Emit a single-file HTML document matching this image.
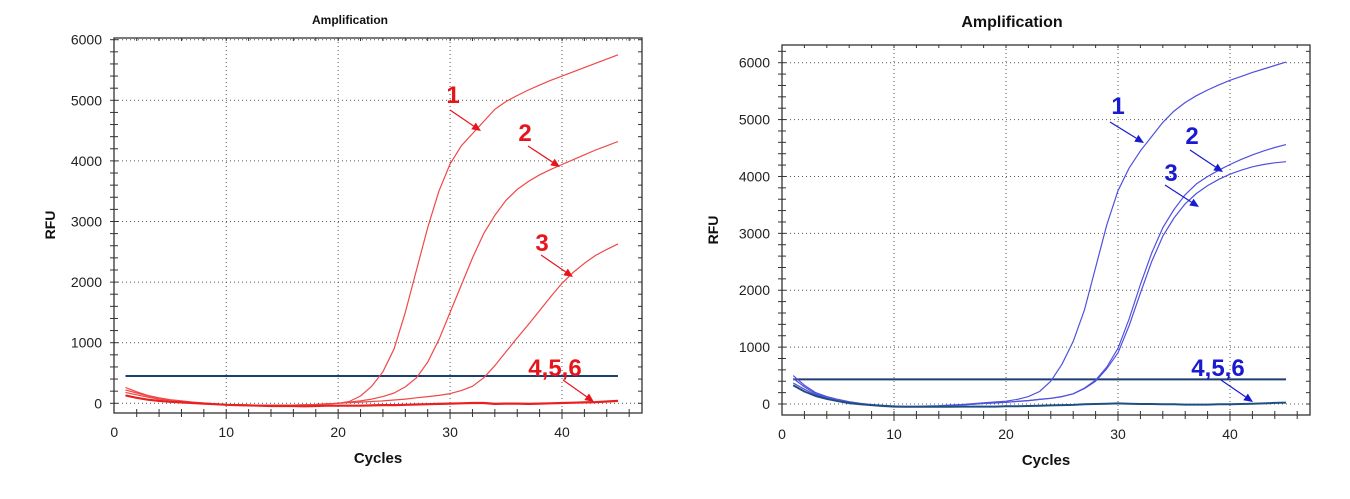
<!DOCTYPE html>
<html><head><meta charset="utf-8"><style>
html,body{margin:0;padding:0;background:#fff;}
svg{display:block;font-family:"Liberation Sans",Arial,sans-serif;}
</style></head><body>
<svg id="c" width="1350" height="499" viewBox="0 0 1350 499" xmlns="http://www.w3.org/2000/svg"></svg>
<script>
// ---- data: cycle numbers and RFU values ----
const cycles = [1,2,3,4,5,6,7,8,9,10,11,12,13,14,15,16,17,18,19,20,21,22,23,24,25,26,27,28,29,30,31,32,33,34,35,36,37,38,39,40,41,42,43,44,45];
const xTicks = [0,10,20,30,40];
const yTicks = [0,1000,2000,3000,4000,5000,6000];
// left (red) panel
const redS1 = [260,190,130,90,60,40,20,5,-10,-20,-25,-30,-30,-30,-30,-30,-25,-20,-10,0,30,120,280,520,900,1500,2200,2900,3500,3950,4250,4450,4650,4850,4980,5080,5170,5250,5330,5400,5470,5540,5610,5680,5750];
const redS2 = [220,170,120,80,55,35,15,0,-10,-20,-25,-30,-30,-30,-30,-30,-25,-20,-10,0,20,40,70,110,170,270,420,680,1050,1500,1950,2400,2800,3100,3350,3530,3660,3770,3860,3940,4020,4100,4180,4250,4320];
const redS3 = [180,140,100,70,50,30,15,0,-10,-20,-25,-30,-30,-30,-30,-30,-25,-20,-10,0,10,20,30,40,55,70,90,110,130,160,210,280,420,620,850,1080,1300,1530,1760,1980,2160,2310,2440,2540,2630];
const redNeg = [130,90,60,40,25,15,5,-5,-15,-25,-30,-35,-40,-45,-45,-45,-50,-45,-40,-40,-40,-40,-35,-30,-30,-25,-20,-15,-10,-5,0,5,5,-10,-5,-5,-10,-5,0,5,10,15,20,30,40];
const redThreshold = 450;
// right (blue) panel
const blueS1 = [500,330,200,130,80,40,10,-10,-25,-35,-40,-40,-35,-30,-20,-10,5,20,35,50,80,130,220,400,700,1100,1650,2400,3150,3750,4150,4450,4700,4950,5150,5300,5420,5520,5610,5690,5760,5830,5890,5950,6010];
const blueS2 = [450,300,180,110,60,20,0,-15,-30,-40,-45,-45,-40,-35,-25,-15,-5,10,20,30,45,60,80,100,130,180,280,420,650,980,1500,2100,2650,3100,3420,3680,3870,4000,4110,4210,4300,4380,4450,4510,4560];
const blueS3 = [370,260,160,100,55,20,0,-15,-30,-40,-45,-45,-40,-35,-25,-15,-5,10,20,30,45,60,80,100,130,180,270,400,620,900,1380,1950,2500,2950,3270,3520,3700,3840,3950,4040,4110,4170,4210,4240,4260];
const blueNeg = [330,220,140,90,50,15,-5,-20,-35,-45,-50,-50,-50,-50,-50,-45,-45,-45,-45,-40,-40,-35,-30,-25,-20,-15,-5,0,5,10,5,0,0,-5,-5,-10,-10,-10,-5,-5,0,5,10,20,25];
const blueThreshold = 434;

const NS = "http://www.w3.org/2000/svg";
const svg = document.getElementById('c');
function mk(tag, attrs, parent){
  const e = document.createElementNS(NS, tag);
  for (const k in attrs) e.setAttribute(k, attrs[k]);
  (parent||svg).appendChild(e);
  return e;
}

function drawPanel(p){
  const g = mk('g', {});
  
  
  const X = c => p.x0 + (c - 0) * (p.x40 - p.x0) / 40;
  const Y = v => p.y0 - v * (p.y0 - p.y6000) / 6000;
  // frame
  const fr = mk('rect', {x:p.fl, y:p.ft, width:p.fr-p.fl, height:p.fb-p.ft, fill:'none', stroke:'#333', 'stroke-width':1.3}, g);
  
  
  // gridlines
  xTicks.forEach(t => { if (t>0) {
    const l = mk('line', {x1:X(t), x2:X(t), y1:p.ft, y2:p.fb, stroke:'#555', 'stroke-width':1, 'stroke-dasharray':'1,3'}, g);
    
    
  }});
  yTicks.forEach(t => {
    const l = mk('line', {x1:p.fl, x2:p.fr, y1:Y(t), y2:Y(t), stroke:'#555', 'stroke-width':1, 'stroke-dasharray':'1,3'}, g);
    
    
  });
  // minor ticks
  for (let c = 2; c <= 46; c += 2) {
    const xx = X(c); if (xx >= p.fr) break;
    mk('line', {x1:xx, x2:xx, y1:p.fb-4, y2:p.fb+ (c%10===0?6:4), stroke:'#333', 'stroke-width':1}, g);
    mk('line', {x1:xx, x2:xx, y1:p.ft, y2:p.ft+3, stroke:'#333', 'stroke-width':1}, g);
  }
  for (let v = -200; v <= 6400; v += 200) {
    const yy = Y(v); if (yy <= p.ft || yy >= p.fb) continue;
    mk('line', {x1:p.fl-4, x2:p.fl+4, y1:yy, y2:yy, stroke:'#333', 'stroke-width':1}, g);
    mk('line', {x1:p.fr-4, x2:p.fr, y1:yy, y2:yy, stroke:'#333', 'stroke-width':1}, g);
  }
  // tick labels
  xTicks.forEach(t => {
    const tx = mk('text', {x:X(t), y:p.fb+24, 'font-size':14, 'text-anchor':'middle', fill:'#222'}, g);
    tx.textContent = t;
    
    
  });
  yTicks.forEach(t => {
    const tx = mk('text', {x:p.fl-12, y:Y(t)+5, 'font-size':14, 'text-anchor':'end', fill:'#222'}, g);
    tx.textContent = t;
    
    
  });
  // titles
  const ti = mk('text', {x:p.titleX, y:p.titleY, 'font-size':p.titleSize, 'font-weight':'bold', 'text-anchor':'middle', fill:'#111'}, g);
  ti.textContent = 'Amplification';
  
  
  const xt = mk('text', {x:(p.fl+p.fr)/2, y:p.fb+50, 'font-size':15, 'font-weight':'bold', 'text-anchor':'middle', fill:'#111'}, g);
  xt.textContent = 'Cycles';
  
  
  const yt = mk('text', {x:p.rfuX, y:p.rfuY, 'font-size':14, 'font-weight':'bold', 'text-anchor':'middle', fill:'#111', transform:'rotate(-90 '+p.rfuX+' '+p.rfuY+')'}, g);
  yt.textContent = 'RFU';
  
  
  // threshold
  const th = mk('line', {x1:X(1), x2:X(45), y1:Y(p.threshold), y2:Y(p.threshold), stroke:'#1c3f6e', 'stroke-width':2}, g);
  
  
  // series
  p.series.forEach((s, i) => {
    const d = cycles.map((c, k) => (k ? 'L' : 'M') + X(c).toFixed(1) + ',' + Y(s.vals[k]).toFixed(1)).join(' ');
    const path = mk('path', {d:d, fill:'none', stroke:s.color, 'stroke-width':s.w, 'stroke-linejoin':'round'}, g);
    
    
  });
  // annotations
  p.notes.forEach(n => {
    const t = mk('text', {x:n.tx, y:n.ty, 'font-size':24, 'font-weight':'bold', 'text-anchor':'middle', fill:p.noteColor}, g);
    t.textContent = n.label;
    
    
    const ax = n.a[2]-n.a[0], ay = n.a[3]-n.a[1], L = Math.hypot(ax, ay), ux = ax/L, uy = ay/L;
    const bx = n.a[2]-ux*9, by = n.a[3]-uy*9;
    const ar = mk('line', {x1:n.a[0], y1:n.a[1], x2:bx, y2:by, stroke:p.noteColor, 'stroke-width':1.2}, g);
    
    
    mk('polygon', {points:[n.a[2],n.a[3], bx-uy*4,by+ux*4, bx+uy*4,by-ux*4].join(','), fill:p.noteColor}, g);
  });
}

const red = '#f04848';
drawPanel({id:'left', fl:114, fr:642, ft:38, fb:413, x0:114.3, x40:562, y0:403.3, y6000:39.7,
  titleX:350, titleY:24, titleSize:12, rfuX:55, rfuY:225, threshold:redThreshold, noteColor:'#e8141c',
  series:[
    {name:'red-curve-1', vals:redS1, color:red, w:1.2},
    {name:'red-curve-2', vals:redS2, color:red, w:1.2},
    {name:'red-curve-3', vals:redS3, color:red, w:1.2},
    {name:'red-curve-negatives', vals:redNeg, color:'#e82020', w:2.2}
  ],
  notes:[
    {label:'1', tx:453, ty:103, a:[450,110,481,131]},
    {label:'2', tx:525, ty:141, a:[528,146,560,167]},
    {label:'3', tx:542, ty:251, a:[541,255,573,277]},
    {label:'4,5,6', tx:555, ty:376, a:[563,380,594,402]}
  ]});

const blue = '#5050e0';
drawPanel({id:'right', fl:782, fr:1310, ft:45, fb:415, x0:782, x40:1230, y0:404, y6000:62.7,
  titleX:1012, titleY:27, titleSize:16, rfuX:718, rfuY:230, threshold:blueThreshold, noteColor:'#1a1ad0',
  series:[
    {name:'blue-curve-1', vals:blueS1, color:blue, w:1.2},
    {name:'blue-curve-2', vals:blueS2, color:blue, w:1.2},
    {name:'blue-curve-3', vals:blueS3, color:blue, w:1.2},
    {name:'blue-curve-negatives', vals:blueNeg, color:'#1f4f80', w:2}
  ],
  notes:[
    {label:'1', tx:1118, ty:114, a:[1110,122,1144,143]},
    {label:'2', tx:1192, ty:144, a:[1190,150,1223,172]},
    {label:'3', tx:1171, ty:181, a:[1165,185,1199,207]},
    {label:'4,5,6', tx:1218, ty:376, a:[1221,380,1253,402]}
  ]});
</script>
</body></html>
